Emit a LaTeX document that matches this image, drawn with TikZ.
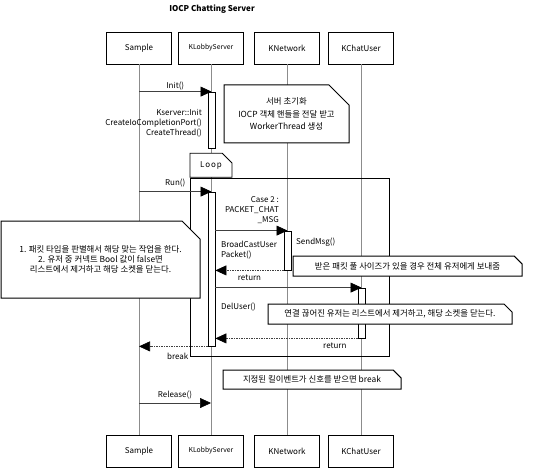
\documentclass[tikz,border=0pt]{standalone}
\usepackage{fontspec}
\setmainfont{Noto Sans CJK KR}
\usetikzlibrary{arrows.meta}
\usetikzlibrary{shapes.misc}
\tikzset{
        % Participant boxes
        node_actor/.style={draw=black, line width=0.8pt, fill=white, minimum width=65pt, minimum height=32pt, inner sep=0pt},
        % Lifelines
        line_life/.style={draw=black!45, line width=0.6pt},
        % Activation bars
        node_active/.style={draw=black, line width=0.8pt, fill=white, minimum width=7pt, inner sep=0pt},
        % Calls and returns
        msg_call/.style={-{Triangle[length=11pt,width=10pt,color=black,fill=black]}, line width=0.6pt, draw=black!75},
        msg_return/.style={msg_call, dash pattern=on 1.5pt off 1pt},
        msg_label/.style={inner sep=1pt},
        % Notes
        node_note/.style={chamfered rectangle, chamfered rectangle corners=north east, chamfered rectangle xsep=4pt, chamfered rectangle ysep=4pt, draw=black, line width=1pt, fill=white, align=center, inner sep=0pt, font=\fontsize{8.4}{10}\selectfont}
}
\begin{document}
\begin{tikzpicture}[x=1pt, y=-1pt, font=\fontsize{8}{10}\selectfont]
    \useasboundingbox (0,0) rectangle (533,468);
    \node[font=\bfseries\fontsize{8}{10}\selectfont] (title) at (212,9) {IOCP Chatting Server};
    \node[node_actor] (sample_top) at (139,48) {Sample};
    \node[node_actor, font=\fontsize{6.8}{8}\selectfont] (lobby_top) at (211,48) {KLobbyServer};
    \node[node_actor] (network_top) at (287,48) {KNetwork};
    \node[node_actor] (user_top) at (361,48) {KChatUser};
    \node[node_actor] (sample_bot) at (139,451) {Sample};
    \node[node_actor, font=\fontsize{6.8}{8}\selectfont] (lobby_bot) at (211,451) {KLobbyServer};
    \node[node_actor] (network_bot) at (287,451) {KNetwork};
    \node[node_actor] (user_bot) at (361,451) {KChatUser};
    \foreach \p in {sample, lobby, network, user}
        \draw[line_life] (\p_top) -- (\p_bot);
    \node[draw=black, line width=0.8pt, minimum width=199pt, minimum height=178pt, inner sep=0pt] (loop) at (289.5,267) {};
    \node[chamfered rectangle, chamfered rectangle corners=north east, chamfered rectangle xsep=6pt, chamfered rectangle ysep=6pt, draw=black, line width=0.8pt, fill=white, minimum width=42pt, minimum height=24pt, inner sep=0pt, anchor=south west] (loop_tab) at (loop.north west) {\addfontfeature{LetterSpace=12}Loop};
    \node[node_active, minimum height=56pt] (act_init) at (211.5,120) {};
    \node[node_active, minimum height=154pt] (act_run) at (211.5,269) {};
    \node[node_active, minimum height=39pt] (act_send) at (287.5,250.5) {};
    \node[node_active, minimum height=50pt] (act_del) at (361.5,313) {};
    \coordinate (release_end) at (211,403);
    \draw[msg_call] (sample_top |- act_init.north) -- node[msg_label, above] {Init()} (act_init.north);
    \node[msg_label, align=right, anchor=east] (init_steps) at (203,123) {Kserver::Init\\CreateIoCompletionPort()\\CreateThread()};
    \draw[msg_call] (sample_top |- act_run.north) -- node[msg_label, above=3pt] {Run()} (act_run.north);
    \node[msg_label, align=right, anchor=east] (case_label) at (280,210) {Case 2 :\\PACKET\_CHAT\\\_MSG};
    \draw[msg_call] (act_run.east |- act_send.north) -- (act_send.north);
    \node[msg_label, anchor=west] (send_label) at (295,242) {SendMsg()};
    \node[msg_label, align=left, anchor=west] (cast_label) at (220,250) {BroadCastUser\\Packet()};
    \draw[msg_return] (act_send.south west) -- node[msg_label, below=3pt] {return} (act_run.east |- act_send.south);
    \draw[msg_call] (act_run.east |- act_del.north) -- (act_del.north);
    \node[msg_label, anchor=west] (del_label) at (220,307) {DelUser()};
    \draw[msg_return] (act_del.south west) -- node[msg_label, below=3pt, pos=0.16] {return} (act_run.east |- act_del.south);
    \draw[msg_return] (act_run.south west) -- (sample_top |- act_run.south);
    \node[msg_label, anchor=east] (break_label) at (loop.south west) {break};
    \draw[msg_call] (sample_top |- release_end) -- node[msg_label, above=3pt] {Release()} (release_end);
    \node[node_note, minimum width=125pt, minimum height=58pt, chamfered rectangle xsep=9pt, chamfered rectangle ysep=11pt, font=\fontsize{8.4}{12.5}\selectfont] (note_init) at (286.5,114) {서버 초기화\\IOCP 객체 핸들을 전달 받고\\WorkerThread 생성};
    \node[node_note, minimum width=229pt, minimum height=20pt] (note_cast) at (407.5,266) {받은 패킷 풀 사이즈가 있을 경우 전체 유저에게 보내줌};
    \node[node_note, minimum width=199pt, minimum height=77pt, chamfered rectangle xsep=9pt, chamfered rectangle ysep=9pt] (note_packet) at (100.5,259.5) {1. 패킷 타입을 판별해서 해당 맞는 작업을 한다.\\2. 유저 중 커넥트 Bool 값이 false면\\리스트에서 제거하고 해당 소켓을 닫는다.};
    \node[node_note, minimum width=244pt, minimum height=20pt] (note_del) at (390,314) {연결 끊어진 유저는 리스트에서 제거하고, 해당 소켓을 닫는다.};
    \node[node_note, minimum width=178pt, minimum height=19pt] (note_break) at (312,379.5) {지정된 킬이벤트가 신호를 받으면 break};
\end{tikzpicture}
\end{document}
